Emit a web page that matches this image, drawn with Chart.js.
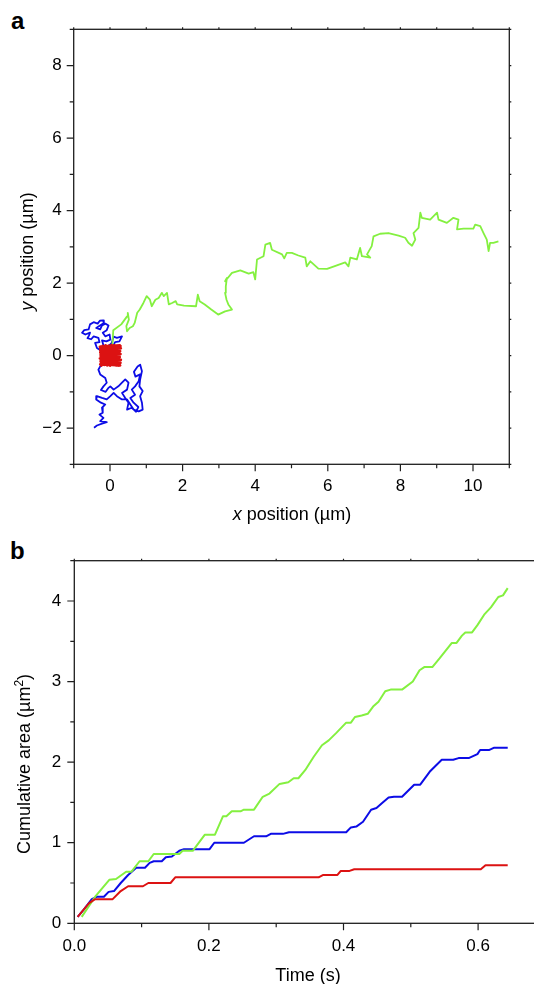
<!DOCTYPE html>
<html>
<head>
<meta charset="utf-8">
<script src="https://cdn.jsdelivr.net/npm/chart.js@4/dist/chart.umd.min.js"></script>
<style>
html,body{margin:0;padding:0;background:#fff;overflow:hidden;width:534px;height:984px;position:relative}
#ca{position:absolute;left:0;top:0}
#cb{position:absolute;left:0;top:530px}
.lab{position:absolute;font:bold 24px "Liberation Sans",Arial,sans-serif;color:#000;line-height:normal}
</style>
</head>
<body>
<div class="lab" style="left:11px;top:7px">a</div>
<div class="lab" style="left:10px;top:537px">b</div>
<canvas id="ca" width="534" height="530"></canvas>
<canvas id="cb" width="560" height="454"></canvas>
<script>
// ---------- Panel a: trajectories (µm) ----------
const greenX = [0.00,0.05,0.07,0.09,0.31,0.47,0.49,0.52,0.45,0.47,0.54,0.63,0.68,0.75,0.82,0.92,1.01,1.10,1.15,1.25,1.34,1.43,1.48,1.57,1.62,1.71,1.81,1.85,2.04,2.37,2.42,2.47,2.61,2.79,2.98,3.17,3.36,3.26,3.21,3.17,3.19,3.22,3.17,3.36,3.59,3.82,3.95,4.00,4.05,4.23,4.28,4.41,4.46,4.74,4.80,4.87,5.01,5.19,5.38,5.42,5.52,5.74,5.98,6.25,6.48,6.57,6.62,6.80,6.89,6.94,7.17,7.08,7.21,7.26,7.44,7.67,7.95,8.13,8.22,8.32,8.41,8.36,8.50,8.55,8.59,8.82,9.01,9.05,9.28,9.46,9.60,9.56,9.74,10.01,10.06,10.20,10.29,10.38,10.43,10.47,10.56,10.70];
const greenY = [0.00,0.20,0.35,0.70,0.86,1.08,1.18,0.99,0.81,0.67,0.76,0.81,0.90,1.18,1.27,1.45,1.64,1.54,1.36,1.54,1.59,1.73,1.64,1.73,1.41,1.45,1.50,1.41,1.38,1.36,1.68,1.50,1.41,1.27,1.13,1.22,1.27,1.41,1.54,1.73,1.91,2.14,2.05,2.28,2.35,2.26,2.30,2.10,2.65,2.74,3.06,3.11,2.92,2.79,2.68,2.83,2.83,2.76,2.70,2.46,2.60,2.40,2.39,2.49,2.57,2.46,2.70,2.65,2.97,2.74,2.70,2.79,3.02,3.29,3.36,3.38,3.31,3.25,3.11,3.03,3.20,3.38,3.52,3.94,3.80,3.75,3.94,3.75,3.66,3.80,3.75,3.48,3.50,3.50,3.61,3.57,3.38,3.20,2.88,3.11,3.11,3.15];

const blueX = [0.00,0.01,-0.09,-0.22,-0.36,-0.41,-0.29,-0.32,-0.45,-0.52,-0.62,-0.58,-0.55,-0.68,-0.77,-0.71,-0.59,-0.55,-0.45,-0.34,-0.28,-0.19,-0.17,-0.38,-0.27,-0.22,-0.13,-0.04,-0.09,-0.20,-0.13,-0.01,0.01,-0.10,-0.22,-0.18,-0.04,0.05,0.10,0.19,0.33,0.26,0.14,0.08,0.01,-0.27,-0.32,-0.27,-0.13,-0.09,-0.18,-0.25,-0.12,-0.05,0.01,0.10,0.23,0.33,0.42,0.51,0.47,0.33,0.42,0.51,0.47,0.60,0.72,0.78,0.65,0.56,0.69,0.60,0.69,0.79,0.83,0.70,0.66,0.76,0.83,0.88,0.83,0.81,0.90,0.83,0.88,0.90,0.79,0.65,0.47,0.33,0.19,0.10,0.01,-0.09,-0.22,-0.36,-0.38,-0.25,-0.13,-0.22,-0.20,-0.29,-0.18,-0.27,-0.09,-0.22,-0.36,-0.44];
const blueY = [0.00,0.03,0.17,0.12,0.21,0.35,0.37,0.49,0.53,0.45,0.48,0.55,0.63,0.58,0.63,0.70,0.72,0.86,0.92,0.88,0.96,0.97,0.90,0.76,0.72,0.83,0.88,0.83,0.70,0.63,0.53,0.58,0.44,0.39,0.42,0.28,0.26,0.35,0.52,0.49,0.53,0.39,0.37,0.26,0.17,-0.30,-0.39,-0.52,-0.62,-0.75,-0.85,-0.95,-1.00,-0.90,-0.85,-0.94,-0.85,-0.75,-0.66,-0.75,-0.94,-1.03,-1.17,-1.30,-1.49,-1.44,-1.55,-1.42,-1.30,-1.17,-1.08,-0.94,-0.85,-0.71,-0.52,-0.58,-0.45,-0.30,-0.25,-0.43,-0.66,-0.85,-0.98,-1.12,-1.30,-1.49,-1.54,-1.49,-1.21,-1.21,-1.12,-1.03,-1.12,-1.21,-1.17,-1.12,-1.21,-1.30,-1.35,-1.44,-1.58,-1.63,-1.72,-1.81,-1.84,-1.88,-1.93,-1.99];

const redX = [0.00,0.28,-0.27,0.29,-0.26,0.30,-0.28,0.27,-0.25,0.29,-0.27,0.28,-0.26,0.30,-0.28,0.27,0.24,0.20,0.16,0.12,0.08,0.04,0.00,-0.04,-0.08,-0.12,-0.16,-0.20,-0.24,-0.27,0.29,-0.26,0.27,-0.22,0.02];
const redY = [0.00,-0.27,-0.24,-0.20,-0.16,-0.12,-0.08,-0.04,0.00,0.04,0.08,0.12,0.16,0.20,0.24,0.28,-0.28,0.27,-0.27,0.28,-0.26,0.29,-0.28,0.27,-0.27,0.28,-0.26,0.27,-0.28,0.25,0.26,-0.25,-0.22,0.22,0.05];

const aXLabels = [0,2,4,6,8,10];
const aYLabels = [-2,0,2,4,6,8];

// ---------- Panel b: cumulative area (µm²) vs time (s) ----------
const greenT = [0.011,0.031,0.052,0.062,0.077,0.085,0.097,0.110,0.118,0.148,0.156,0.161,0.176,0.194,0.209,0.221,0.226,0.234,0.247,0.252,0.267,0.280,0.290,0.305,0.318,0.326,0.333,0.343,0.356,0.368,0.378,0.389,0.404,0.411,0.417,0.427,0.436,0.444,0.452,0.462,0.470,0.487,0.503,0.513,0.520,0.532,0.543,0.561,0.568,0.576,0.581,0.591,0.599,0.609,0.619,0.630,0.637,0.644];
const greenA = [0.08,0.33,0.54,0.55,0.64,0.64,0.77,0.77,0.86,0.86,0.86,0.90,0.90,1.10,1.10,1.33,1.33,1.39,1.39,1.41,1.41,1.57,1.61,1.73,1.75,1.80,1.80,1.90,2.07,2.21,2.27,2.36,2.49,2.49,2.56,2.58,2.60,2.69,2.75,2.88,2.90,2.90,3.00,3.14,3.18,3.18,3.29,3.48,3.48,3.57,3.61,3.61,3.70,3.83,3.92,4.05,4.07,4.16];
const blueT = [0.005,0.014,0.026,0.034,0.044,0.051,0.059,0.069,0.080,0.092,0.105,0.112,0.118,0.130,0.136,0.145,0.156,0.163,0.201,0.208,0.252,0.267,0.285,0.292,0.310,0.319,0.404,0.411,0.419,0.429,0.441,0.449,0.457,0.467,0.475,0.487,0.505,0.514,0.528,0.546,0.563,0.571,0.586,0.599,0.603,0.616,0.624,0.644];
const blueA = [0.08,0.17,0.30,0.33,0.33,0.39,0.40,0.50,0.60,0.69,0.69,0.75,0.77,0.77,0.82,0.83,0.90,0.92,0.92,1.00,1.00,1.08,1.08,1.11,1.11,1.13,1.13,1.19,1.20,1.26,1.41,1.43,1.49,1.56,1.57,1.57,1.72,1.72,1.88,2.03,2.03,2.05,2.05,2.10,2.15,2.15,2.18,2.18];
const redT = [0.005,0.022,0.031,0.057,0.069,0.080,0.102,0.110,0.143,0.150,0.156,0.363,0.370,0.391,0.396,0.409,0.416,0.604,0.611,0.644];
const redA = [0.08,0.25,0.30,0.30,0.40,0.46,0.46,0.50,0.50,0.57,0.57,0.57,0.60,0.60,0.65,0.65,0.67,0.67,0.72,0.72];

const bXLabels = [0.0,0.2,0.4,0.6];
const bYLabels = [0,1,2,3,4];

// ---------- styling ----------
const GREEN = '#84f040', BLUE = '#0c0ce6', RED = '#dc1212';
const FONT = '"Liberation Sans", Arial, Helvetica, sans-serif';
Chart.defaults.font.family = FONT;
Chart.defaults.color = '#000';

const pts = (xs, ys) => xs.map((x, i) => ({x: x, y: ys[i]}));
const near = (v, arr) => arr.some(a => Math.abs(a - v) < 1e-6);

function drawMixed(ctx, parts, cx, cy, rot, size) {
  ctx.save();
  ctx.translate(cx, cy);
  ctx.rotate(rot);
  let total = 0;
  parts.forEach(p => { ctx.font = p.font; p.w = ctx.measureText(p.text).width; total += p.w; });
  let x = -total / 2;
  ctx.textBaseline = 'alphabetic';
  ctx.textAlign = 'left';
  ctx.fillStyle = '#000';
  parts.forEach(p => { ctx.font = p.font; ctx.fillText(p.text, x, 0.27 * size + (p.dy || 0)); x += p.w; });
  ctx.restore();
}

function framePlugin(opts) {
  return {
    id: 'frame',
    afterDatasetsDraw(chart) {
      const {ctx, chartArea: a, scales} = chart;
      ctx.save();
      ctx.strokeStyle = '#1e1e1e';
      ctx.lineWidth = 1.3;
      ctx.strokeRect(a.left, a.top, a.right - a.left, a.bottom - a.top);
      ctx.lineWidth = 1.2;
      ctx.beginPath();
      const xs = scales.x, ys = scales.y;
      xs.ticks.forEach(t => {
        const p = xs.getPixelForValue(t.value);
        const L = near(t.value, opts.xMajor) ? 7 : 4;
        ctx.moveTo(p, a.bottom); ctx.lineTo(p, a.bottom + L);
        ctx.moveTo(p, a.top); ctx.lineTo(p, a.top - 2);
      });
      ys.ticks.forEach(t => {
        const p = ys.getPixelForValue(t.value);
        const L = near(t.value, opts.yMajor) ? 7 : 4;
        ctx.moveTo(a.left, p); ctx.lineTo(a.left - L, p);
        ctx.moveTo(a.right, p); ctx.lineTo(a.right + 2, p);
      });
      ctx.stroke();
      ctx.restore();
      opts.titles(ctx, a);
    }
  };
}

// ---------- chart a ----------
new Chart(document.getElementById('ca'), {
  type: 'scatter',
  data: {
    datasets: [
      {data: pts(redX, redY), borderColor: RED, borderWidth: 2.6},
      {data: pts(greenX, greenY), borderColor: GREEN, borderWidth: 1.8},
      {data: pts(blueX, blueY), borderColor: BLUE, borderWidth: 1.8}
    ].map(d => Object.assign(d, {showLine: true, pointRadius: 0, tension: 0, borderJoinStyle: 'round', fill: false}))
  },
  options: {
    responsive: false, animation: false, events: [],
    layout: {padding: {left: 0, right: 24.7, top: 29.3, bottom: 0}},
    plugins: {legend: {display: false}, tooltip: {enabled: false}},
    scales: {
      x: {
        type: 'linear', min: -1, max: 11,
        grid: {display: false, drawTicks: false},
        border: {display: false},
        ticks: {stepSize: 1, autoSkip: false, maxRotation: 0, padding: 12.2, font: {size: 17},
          callback: v => near(v, aXLabels) ? String(v) : ''},
        afterFit: s => { s.height = 65.7; }
      },
      y: {
        type: 'linear', min: -3, max: 9,
        grid: {display: false, drawTicks: false},
        border: {display: false},
        ticks: {stepSize: 1, autoSkip: false, padding: 12, font: {size: 17},
          callback: v => near(v, aYLabels) ? (v < 0 ? '\u2212' + Math.abs(v) : String(v)) : ''},
        afterFit: s => { s.width = 73.7; }
      }
    }
  },
  plugins: [framePlugin({
    xMajor: aXLabels, yMajor: aYLabels,
    titles: (ctx, a) => {
      const f = '18px ' + FONT, fi = 'italic 18px ' + FONT;
      drawMixed(ctx, [{text: 'x', font: fi}, {text: ' position (\u00b5m)', font: f}], 292, 515, 0, 18);
      drawMixed(ctx, [{text: 'y', font: fi}, {text: ' position (\u00b5m)', font: f}], 28, 251.5, -Math.PI / 2, 18);
    }
  })]
});

// ---------- chart b ----------
new Chart(document.getElementById('cb'), {
  type: 'scatter',
  data: {
    datasets: [
      {data: pts(redT, redA), borderColor: RED},
      {data: pts(greenT, greenA), borderColor: GREEN},
      {data: pts(blueT, blueA), borderColor: BLUE}
    ].map(d => Object.assign(d, {showLine: true, pointRadius: 0, tension: 0, borderWidth: 2, borderJoinStyle: 'round', fill: false}))
  },
  options: {
    responsive: false, animation: false, events: [],
    layout: {padding: {left: 0, right: 14.6, top: 30.7, bottom: 0}},
    plugins: {legend: {display: false}, tooltip: {enabled: false}},
    scales: {
      x: {
        type: 'linear', min: 0, max: 0.7,
        grid: {display: false, drawTicks: false},
        border: {display: false},
        ticks: {stepSize: 0.1, autoSkip: false, maxRotation: 0, padding: 13.2, font: {size: 17},
          callback: v => near(v, bXLabels) ? v.toFixed(1) : ''},
        afterFit: s => { s.height = 60.7; }
      },
      y: {
        type: 'linear', min: 0, max: 4.5,
        grid: {display: false, drawTicks: false},
        border: {display: false},
        ticks: {stepSize: 0.5, autoSkip: false, padding: 13, font: {size: 17},
          callback: v => near(v, bYLabels) ? String(v) : ''},
        afterFit: s => { s.width = 74.3; }
      }
    }
  },
  plugins: [framePlugin({
    xMajor: bXLabels, yMajor: bYLabels,
    titles: (ctx, a) => {
      const f = '18px ' + FONT;
      drawMixed(ctx, [{text: 'Time (s)', font: f}], 308, 446, 0, 18);
      drawMixed(ctx, [{text: 'Cumulative area (\u00b5m', font: f}, {text: '2', font: '12px ' + FONT, dy: -7}, {text: ')', font: f}], 25.5, 234, -Math.PI / 2, 18);
    }
  })]
});
</script>
</body>
</html>
